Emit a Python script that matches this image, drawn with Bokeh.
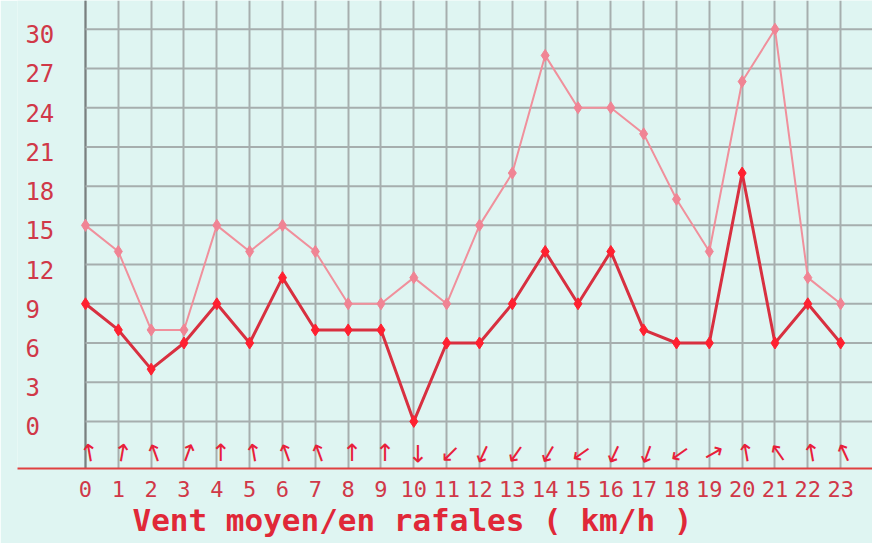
import math
from bokeh.plotting import figure
from bokeh.models import Range1d, FixedTicker, Title, Span
from bokeh.core.properties import value
from bokeh.embed import file_html
from bokeh.resources import INLINE

# ---- data ----
hours = list(range(24))
x_labels = [str(h) for h in hours]
gusts = [15, 13, 7, 7, 15, 13, 15, 13, 9, 9, 11, 9, 15, 19, 28, 24, 24, 22, 17, 13, 26, 30, 11, 9]
mean_wind = [9, 7, 4, 6, 9, 6, 11, 7, 7, 7, 0, 6, 6, 9, 13, 9, 13, 7, 6, 6, 19, 6, 9, 6]
# arrow direction in degrees, clockwise from "up"
wind_dir = [-10, 10, -20, 20, 0, -10, -20, -20, 0, 0, 180, 225, 205, 215, 210, 235, 205, 200, 235, 60, -10, -35, -10, -25]
y_ticks = [0, 3, 6, 9, 12, 15, 18, 21, 24, 27, 30]
y_labels = [str(t) for t in y_ticks]
title_text = "Vent moyen/en rafales ( km/h )"

# ---- styles ----
BG = "#dff5f2"
GRID = "#a6aeae"
LABEL = "#d03848"
RED = "#e8203a"
X0, X1 = -2.071, 23.97
Y0, Y1 = -3.6, 32.2

p = figure(width=872, height=543, x_range=Range1d(X0, X1), y_range=Range1d(Y0, Y1),
           output_backend="svg", toolbar_location=None,
           min_border_left=17, min_border_right=0, min_border_top=0, min_border_bottom=75,
           background_fill_color=BG, border_fill_color=BG, outline_line_color=None)

p.yaxis.visible = False
p.ygrid.visible = False

p.xaxis.ticker = FixedTicker(ticks=hours)
p.xaxis.major_label_overrides = {h: lab for h, lab in zip(hours, x_labels)}
p.xaxis.axis_line_color = "#e04040"
p.xaxis.axis_line_width = 2
p.xaxis.major_tick_line_color = None
p.xaxis.minor_tick_line_color = None
p.xaxis.major_label_text_font = "DejaVu Sans Mono"
p.xaxis.major_label_text_font_size = "22px"
p.xaxis.major_label_text_color = LABEL
p.xaxis.major_label_standoff = 6

p.xgrid.ticker = FixedTicker(ticks=hours)
p.xgrid.grid_line_color = GRID
p.xgrid.grid_line_width = 2

# horizontal grid lines starting at the left axis (x = 0)
p.segment(x0=[0] * len(y_ticks), x1=[X1] * len(y_ticks), y0=y_ticks, y1=y_ticks,
          line_color=GRID, line_width=2)

# left axis line
p.add_layout(Span(location=0, dimension="height", line_color="#788080", line_width=2, level="underlay"))

# y labels (left aligned)
p.text(x=[-1.83] * len(y_ticks), y=y_ticks, text=y_labels,
       text_font=value("DejaVu Sans Mono"), text_font_size="24px", text_color=LABEL,
       text_align="left", text_baseline="middle", y_offset=5)

# gusts
p.line(hours, gusts, line_color="#f0909c", line_width=2)
p.scatter(hours, gusts, marker="diamond", size=12, color="#f08494")

# mean wind
p.line(hours, mean_wind, line_color="#d83040", line_width=3)
p.scatter(hours, mean_wind, marker="diamond", size=12, color="#ff2030")

# wind direction arrows
p.text(x=hours, y=[-2.45] * len(hours), text=["\u2191"] * len(hours),
       angle=[-math.radians(d) for d in wind_dir], x_offset=4,
       text_font=value("DejaVu Sans"), text_font_size="24px", text_color=RED,
       text_align="center", text_baseline="middle")

t = Title(text=title_text, align="left", offset=115, standoff=0,
          text_font="DejaVu Sans Mono", text_font_style="bold",
          text_font_size="31px", text_color="#e02838")
p.add_layout(t, "below")

open("out.html", "w").write(file_html(p, INLINE))
